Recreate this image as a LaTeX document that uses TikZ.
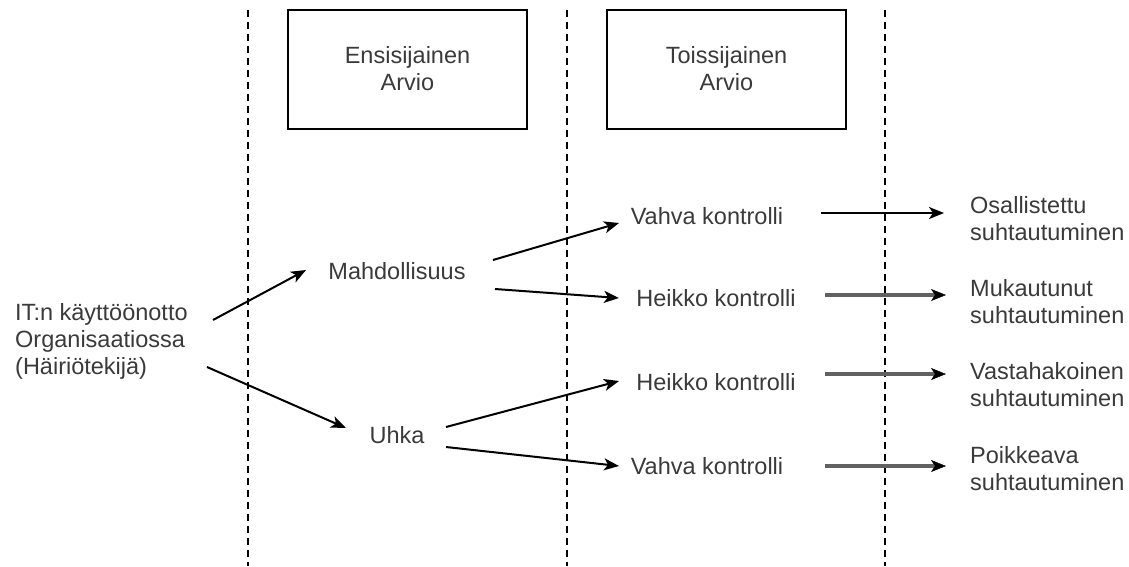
\documentclass[tikz,border=0pt]{standalone}
\usepackage{fontspec}
\setmainfont{Liberation Sans}
\usetikzlibrary{arrows.meta}
\definecolor{txt}{HTML}{3A3A3A}
\tikzset{
  lbl/.style={font=\fontsize{23.5}{27}\selectfont, text=txt, inner sep=0pt, align=center},
  lbll/.style={font=\fontsize{23.5}{27}\selectfont, text=txt, inner sep=0pt, align=left, anchor=west},
  boxn/.style={draw=black, line width=2pt, minimum width=239pt, minimum height=119pt, lbl},
  sep/.style={line width=1.5pt, dash pattern=on 7pt off 5pt},
  arr/.style={line width=2pt, -{Stealth[length=15pt,width=12pt,inset=4pt]}},
  arrg/.style={draw=black!62, line width=3.2pt, -{Stealth[length=15pt,width=12pt,inset=4pt,color=black,line width=0.5pt]}}
}
\begin{document}
\begin{tikzpicture}[x=1pt,y=-1pt]
\useasboundingbox (0,0) rectangle (1129,566);
% separators
\coordinate (s1t) at (248,10); \coordinate (s1b) at (248,566);
\coordinate (s2t) at (567,10); \coordinate (s2b) at (567,566);
\coordinate (s3t) at (885,10); \coordinate (s3b) at (885,566);
\draw[sep] (s1t) -- (s1b);
\draw[sep] (s2t) -- (s2b);
\draw[sep] (s3t) -- (s3b);
% header boxes
\node[boxn] (b1) at (407.5,69) {Ensisijainen\\Arvio};
\node[boxn] (b2) at (726.5,69) {Toissijainen\\Arvio};
% nodes
\node[lbll] (it) at (15,341) {IT:n käyttöönotto\\Organisaatiossa\\(Häiriötekijä)};
\node[lbl] (mah) at (397,271) {Mahdollisuus};
\node[lbl] (uhka) at (397,435) {Uhka};
\node[lbl] (v1) at (707,216) {Vahva kontrolli};
\node[lbl] (h1) at (716,298) {Heikko kontrolli};
\node[lbl] (h2) at (716,382) {Heikko kontrolli};
\node[lbl] (v2) at (707,466) {Vahva kontrolli};
\node[lbll] (r1) at (970,219) {Osallistettu\\suhtautuminen};
\node[lbll] (r2) at (970,302) {Mukautunut\\suhtautuminen};
\node[lbll] (r3) at (970,385) {Vastahakoinen\\suhtautuminen};
\node[lbll] (r4) at (970,469) {Poikkeava\\suhtautuminen};
% connector end points
\coordinate (a1s) at (213,320); \coordinate (a1e) at (306,270);
\coordinate (a2s) at (207,367); \coordinate (a2e) at (346,428);
\coordinate (a3s) at (493,260); \coordinate (a3e) at (619,223);
\coordinate (a4s) at (495,289); \coordinate (a4e) at (619,298);
\coordinate (a5s) at (446,427); \coordinate (a5e) at (619,381);
\coordinate (a6s) at (446,447); \coordinate (a6e) at (619,466);
\coordinate (c1s) at (821,213); \coordinate (c1e) at (944,213);
\coordinate (c2s) at (825,295); \coordinate (c2e) at (946,295);
\coordinate (c3s) at (825,374); \coordinate (c3e) at (946,374);
\coordinate (c4s) at (825,466); \coordinate (c4e) at (946,466);
\draw[arr] (a1s) -- (a1e);
\draw[arr] (a2s) -- (a2e);
\draw[arr] (a3s) -- (a3e);
\draw[arr] (a4s) -- (a4e);
\draw[arr] (a5s) -- (a5e);
\draw[arr] (a6s) -- (a6e);
\draw[arr] (c1s) -- (c1e);
\draw[arrg] (c2s) -- (c2e);
\draw[arrg] (c3s) -- (c3e);
\draw[arrg] (c4s) -- (c4e);
\end{tikzpicture}
\end{document}
